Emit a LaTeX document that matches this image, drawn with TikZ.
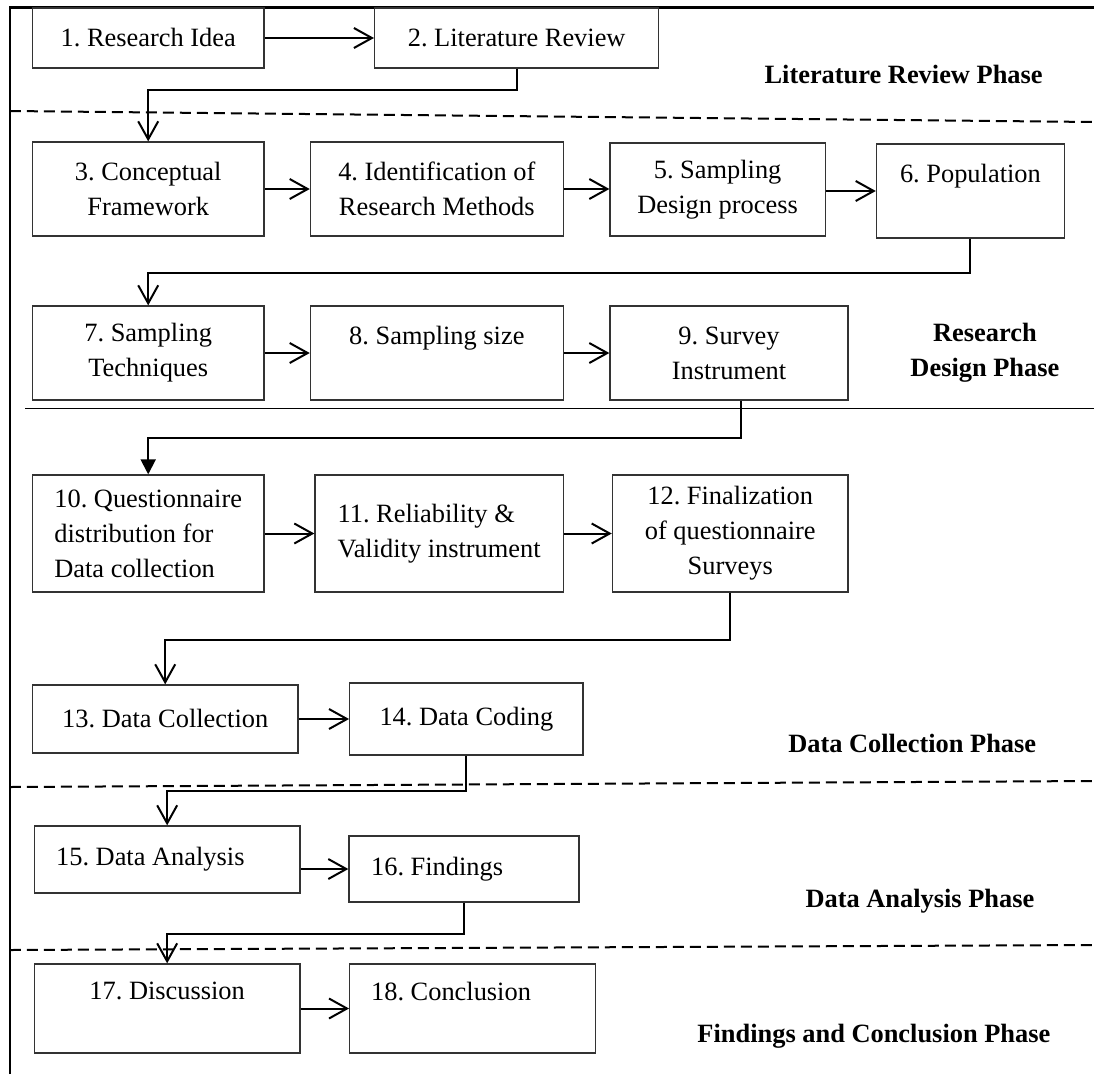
\documentclass[tikz,border=0pt]{standalone}
\usepackage{fontspec}
\setmainfont{Liberation Serif}
\usetikzlibrary{arrows.meta}
\newcommand\flowfont{\fontsize{26.4pt}{35pt}\selectfont}
\frenchspacing
\begin{document}
\begin{tikzpicture}[x=1pt,y=-1pt,
  box/.style 2 args={draw=black!80, line width=1.3pt, inner sep=0pt, font=\flowfont,
                     align=center, minimum width=#1, minimum height=#2},
  leftbox/.style={align=flush left, text width=#1},
  conn/.style={line width=2pt, -{Straight Barb[length=18pt,width=20pt]}},
  connfill/.style={line width=2pt, -{Triangle[length=15pt,width=15pt]}},
  phase/.style={font=\flowfont\bfseries, inner sep=0pt},
  frame/.style={line width=2.4pt},
  divider/.style={line width=2pt, dash pattern=on 11pt off 6pt},
  solidrule/.style={line width=1.6pt}]
\useasboundingbox (0,0) rectangle (1094,1074);

% outer frame (top and left edges) and phase separators
\draw[frame] (9.8,1074) -- (9.8,7.5) -- (1094,7.5);
\draw[divider] (9.8,111) -- (1094,122);
\draw[solidrule] (25.3,408.3) -- (1094,408.3);
\draw[divider] (9.8,787) -- (1094,781);
\draw[divider] (9.8,950) -- (1094,945);

% phase titles
\node[phase, anchor=base] (tlit) at (903.6,83.3) {Literature Review Phase};
\node[phase, align=center] (tdes) at (984.9,353) {Research\\Design Phase};
\node[phase, anchor=base] (tcol) at (912.2,752.7) {Data Collection Phase};
\node[phase, anchor=base] (tana) at (919.9,907.3) {Data Analysis Phase};
\node[phase, anchor=base] (tfin) at (873.9,1042.7) {Findings and Conclusion Phase};

% process steps
\node[box={231.8pt}{60pt}] (b1) at (148.2,38) {1. Research Idea};
\node[box={284.1pt}{60pt}] (b2) at (516.65,38) {2. Literature Review};

\node[box={231.8pt}{94pt}] (b3) at (148.2,189) {3. Conceptual\\Framework};
\node[box={252.9pt}{94pt}] (b4) at (436.85,189) {4. Identification of\\Research Methods};
\node[box={215.2pt}{93pt}] (b5) at (717.6,189.5) {5. Sampling\\Design process};
\node[box={188pt}{94pt}] (b6) at (970.4,191) {6. Population\\\mbox{}};

\node[box={231.8pt}{94pt}] (b7) at (148.2,353) {7. Sampling\\Techniques};
\node[box={252.9pt}{94pt}] (b8) at (436.85,353) {8. Sampling size\\\mbox{}};
\node[box={238.1pt}{94pt}] (b9) at (729.05,353) {9. Survey\\Instrument};

\node[box={231.8pt}{117pt}, align=left] (b10) at (148.2,533.5)
  {10. Questionnaire\\distribution for\\Data collection};
\node[box={248.3pt}{117pt}, align=left] (b11) at (439.15,533.5)
  {11. Reliability \&\\Validity instrument};
\node[box={235.7pt}{117pt}] (b12) at (730.25,533.5)
  {12. Finalization\\of questionnaire\\Surveys};

\node[box={265.8pt}{68pt}] (b13) at (165.2,719) {13. Data Collection};
\node[box={233.4pt}{72pt}] (b14) at (466.4,719) {14. Data Coding};

\node[box={265.5pt}{67pt}, leftbox=222.1pt, inner xsep=21.7pt] (b15) at (167.15,859.5)
  {15. Data Analysis};
\node[box={229.9pt}{66pt}, leftbox=185.7pt, inner xsep=22.1pt] (b16) at (463.95,869)
  {16. Findings};

\node[box={265.5pt}{89pt}] (b17) at (167.15,1008.5) {17. Discussion\\\mbox{}};
\node[box={245.8pt}{89pt}, leftbox=203pt, inner xsep=21.4pt] (b18) at (472.6,1008.5)
  {18. Conclusion\\\mbox{}};

% arrows within each row
\draw[conn] (b1.east) -- (b2.west);
\draw[conn] (b3.east) -- (b4.west);
\draw[conn] (b4.east) -- (b4.east -| b5.west);
\draw[conn] (b5.east |- b6.west) -- (b6.west);
\draw[conn] (b7.east) -- (b8.west);
\draw[conn] (b8.east) -- (b9.west);
\draw[conn] (b10.east) -- (b11.west);
\draw[conn] (b11.east) -- (b12.west);
\draw[conn] (b13.east) -- (b14.west);
\draw[conn] (b15.east |- b16.west) -- (b16.west);
\draw[conn] (b17.east) -- (b18.west);

% elbow arrows leading to the next row
\draw[conn] (b2.south) -- ++(0,21) -| (b3.north);
\draw[conn] (b6.south) -- ++(0,34) -| (b7.north);
\draw[connfill] ([xshift=12.4pt]b9.south) -- ++(0,37) -| (b10.north);
\draw[conn] (b12.south) -- ++(0,47) -| (b13.north);
\draw[conn] (b14.south) -- ++(0,35) -| (b15.north);
\draw[conn] (b16.south) -- ++(0,31) -| (b17.north);
\end{tikzpicture}
\end{document}
